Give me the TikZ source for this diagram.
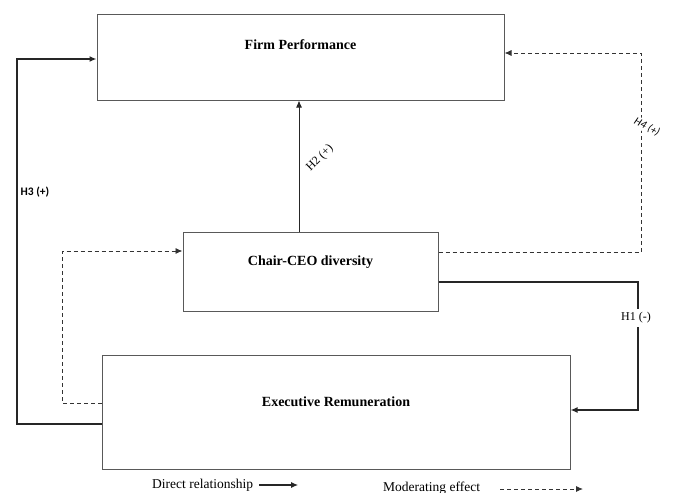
\documentclass[tikz,border=0pt]{standalone}
\usepackage{fontspec}
\setmainfont{Liberation Serif}
\newfontfamily\hfont{Carlito}
\usetikzlibrary{arrows.meta}

\begin{document}
\begin{tikzpicture}[x=1pt,y=-1pt,
  box/.style={draw=black!65, line width=1pt, inner sep=0pt},
  title/.style={font=\fontsize{14}{16}\selectfont\bfseries},
  direct/.style={draw=black!85, line width=1.6pt, -{Latex[length=7pt,width=6pt]}},
  moder/.style={draw=black!80, line width=0.9pt, dash pattern=on 4pt off 3pt, -{Latex[length=7pt,width=6pt]}},
  hyp/.style={font=\fontsize{12}{14}\selectfont, inner sep=1pt},
  legtext/.style={font=\fontsize{13.5}{15}\selectfont, anchor=west, inner sep=0pt}]
\useasboundingbox (0,0) rectangle (673,493);
\node[box, minimum width=407pt, minimum height=86pt] (FP) at (300.5,57) {};
\node[box, minimum width=255pt, minimum height=79pt] (CD) at (310.5,271.5) {};
\node[box, minimum width=468pt, minimum height=114pt] (ER) at (336,412) {};
\node[title] (FPt) at ([yshift=12pt]FP.center) {Firm Performance};
\node[title] (CDt) at ([yshift=9pt]CD.center) {Chair-CEO diversity};
\node[title] (ERt) at ([yshift=10pt]ER.center) {Executive Remuneration};
% corners
\coordinate (h3c) at (17,59);
\coordinate (h1c) at (638,410);
\coordinate (h4c) at (641,53);
\coordinate (mc) at (62,251);
% H2
\draw[direct, line width=1pt] ([xshift=-11.5pt]CD.north) -- ([xshift=-11.5pt]CD.north |- FP.south);
\node[hyp, rotate=45] (h2) at (320,158) {H2 (+)};
% H3
\draw[direct] ([yshift=-12pt]ER.west) -| (h3c) -- ([yshift=-2pt]FP.west);
\node[hyp, font=\hfont\bfseries\fontsize{11.5}{13}\selectfont] (h3) at (35,192) {H3 (+)};
% H1
\draw[direct] ([yshift=-10.5pt]CD.east) -| (h1c) -- ([yshift=2pt]ER.east);
\node[hyp, fill=white, inner ysep=4pt] (h1) at (636,318) {H1 (-)};
% H4
\draw[moder] ([yshift=19.5pt]CD.east) -| (h4c) -- ([yshift=4pt]FP.east);
\node[hyp, fill=white, rotate=-27, font=\hfont\itshape\fontsize{11}{13}\selectfont] (h4) at (647,127) {H4 (+)};
% moderating
\draw[moder] ([yshift=9pt]ER.west) -| (mc) -- ([yshift=20.5pt]CD.west);
% legend
\node[legtext] (dr) at (152,485) {Direct relationship};
\coordinate (drend) at ([xshift=45pt]dr.east);
\draw[direct, line width=1.4pt] ([xshift=6pt]dr.east) -- (drend);
\node[legtext] (me) at (383,488) {Moderating effect};
\coordinate (meend) at (583,489);
\draw[moder] ([xshift=20pt,yshift=-1pt]me.east) -- (meend);
\end{tikzpicture}
\end{document}
